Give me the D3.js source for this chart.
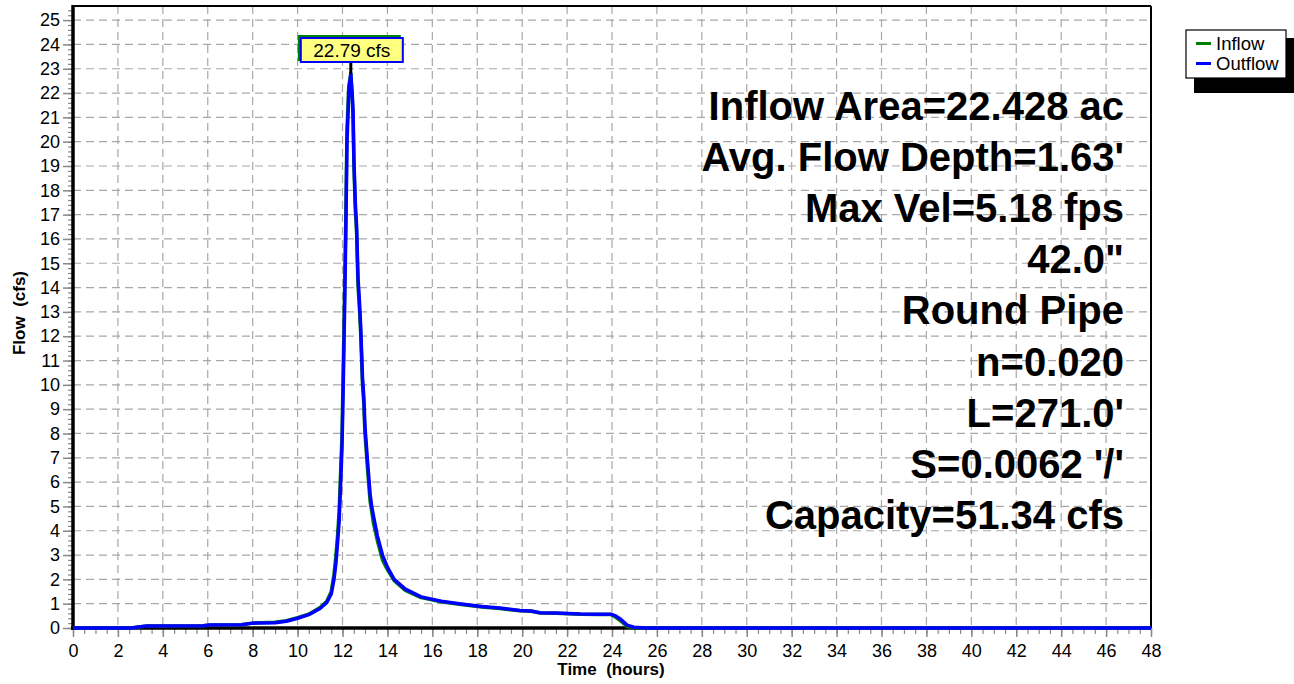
<!DOCTYPE html>
<html><head><meta charset="utf-8">
<script src="https://cdn.jsdelivr.net/npm/d3@7"></script>
<style>body{margin:0;background:#fff}svg{display:block}svg text{font-family:"Liberation Sans",Arial,sans-serif}</style>
</head><body>
<svg id="c" width="1294" height="684"></svg>
<script>
const times = [0,2.6,3.0,3.3,5.8,6.1,7.5,8.0,9.0,9.5,10.0,10.5,11.0,11.3,11.5,11.62,11.7,11.78,11.85,11.92,11.98,12.04,12.1,12.15,12.2,12.28,12.37,12.43,12.47,12.51,12.57,12.63,12.69,12.75,12.81,12.89,12.95,13.0,13.11,13.23,13.3,13.38,13.55,13.78,14.0,14.3,14.8,15.5,16.4,17.2,18.2,19.0,19.9,20.4,20.8,21.5,22.6,23.5,23.95,24.15,24.4,24.67,24.97,25.5,48];
const outflow = [0,0,0.05,0.08,0.09,0.12,0.13,0.2,0.22,0.28,0.4,0.55,0.8,1.05,1.4,2.0,2.6,3.5,4.4,6.0,7.5,10.3,13.5,16.5,20.0,22.0,22.79,22.0,21.3,19.2,17.5,16.5,14.4,13.5,12.4,10.3,9.5,8.3,6.9,5.5,5.0,4.6,3.8,3.0,2.5,2.0,1.6,1.28,1.1,1.0,0.88,0.82,0.72,0.7,0.63,0.62,0.58,0.57,0.57,0.5,0.35,0.12,0.03,0,0];
const inflow = [0,0,0.05,0.08,0.09,0.12,0.13,0.2,0.24,0.3,0.42,0.57,0.84,1.1,1.5,2.2,2.9,3.8,4.8,6.5,8.0,11.0,14.2,17.0,20.5,22.3,22.79,21.8,21.0,19.0,17.2,16.2,14.1,13.2,12.1,10.0,9.2,8.0,6.6,5.2,4.8,4.3,3.6,2.8,2.4,1.95,1.55,1.25,1.08,0.98,0.86,0.8,0.71,0.69,0.62,0.61,0.57,0.56,0.56,0.45,0.28,0.06,0.01,0,0];
const yTicks = d3.range(0,26,1);
const xTicks = d3.range(0,49,2);
const peakLabel = "22.79 cfs";
const seriesNames = ["Inflow","Outflow"];
const seriesColors = ["#008000","#0000ff"];
const notes = ["Inflow Area=22.428 ac","Avg. Flow Depth=1.63'","Max Vel=5.18 fps","42.0\"","Round Pipe","n=0.020","L=271.0'","S=0.0062 '/'","Capacity=51.34 cfs"];

const svg = d3.select("#c");
const L=73, R=1151, T=6, B=628;
const x = d3.scaleLinear().domain([0,48]).range([L,R]);
const y = d3.scaleLinear().domain([0,25.58]).range([B,T]);

// grid
const grid = svg.append("g").attr("stroke","#a8a8a8").attr("stroke-width",1.2).attr("stroke-dasharray","8,5");
yTicks.filter(d=>d>0).forEach(d=>grid.append("line").attr("x1",L).attr("x2",R).attr("y1",y(d)).attr("y2",y(d)));
xTicks.filter(d=>d>0&&d<48).forEach(d=>grid.append("line").attr("y1",T).attr("y2",B).attr("x1",x(d)).attr("x2",x(d)));

// frame
svg.append("line").attr("x1",L).attr("x2",R).attr("y1",T).attr("y2",T).attr("stroke","#000").attr("stroke-width",2);
svg.append("line").attr("x1",R).attr("x2",R).attr("y1",T).attr("y2",B).attr("stroke","#000").attr("stroke-width",2);

// y axis
const yMinor = d3.range(0,25.6,0.2);
const yAx = svg.append("g").attr("transform",`translate(${L},0)`)
  .call(d3.axisLeft(y).tickValues(yMinor).tickSize(5).tickFormat(""));
yAx.select(".domain").remove(); yAx.selectAll("line").attr("stroke","#888").attr("stroke-width",1.2);
const yAx2 = svg.append("g").attr("transform",`translate(${L},0)`)
  .call(d3.axisLeft(y).tickValues(yTicks).tickSize(10).tickPadding(3).tickFormat(d3.format("d")));
yAx2.select(".domain").remove(); yAx2.selectAll("line").attr("stroke","#888").attr("stroke-width",1.5);
yAx2.selectAll("text").attr("font-size",18).attr("fill","#000").attr("font-family",null);

// x axis
const xMinor = d3.range(0,48.1,0.5);
const xAx = svg.append("g").attr("transform",`translate(0,${B})`)
  .call(d3.axisBottom(x).tickValues(xMinor).tickSize(6).tickFormat(""));
xAx.select(".domain").remove(); xAx.selectAll("line").attr("stroke","#888").attr("stroke-width",1.2);
const xAx2 = svg.append("g").attr("transform",`translate(0,${B})`)
  .call(d3.axisBottom(x).tickValues(xTicks).tickSize(9).tickPadding(7).tickFormat(d3.format("d")));
xAx2.select(".domain").remove(); xAx2.selectAll("line").attr("stroke","#888").attr("stroke-width",1.5);
xAx2.selectAll("text").attr("font-size",18).attr("fill","#000").attr("font-family",null);
svg.selectAll("g").attr("font-family",null);

svg.append("line").attr("x1",L).attr("x2",L).attr("y1",T-1).attr("y2",B+2).attr("stroke","#000").attr("stroke-width",3.5);
svg.append("line").attr("x1",L-2).attr("x2",R).attr("y1",B).attr("y2",B).attr("stroke","#000").attr("stroke-width",3.5);

// curves
const line = d3.line().x((d,i)=>x(times[i])).y(d=>y(d));
svg.append("path").attr("d",line(inflow)).attr("fill","none").attr("stroke",seriesColors[0]).attr("stroke-width",3.5).attr("stroke-linejoin","round");
svg.append("path").attr("d",line(outflow)).attr("fill","none").attr("stroke",seriesColors[1]).attr("stroke-width",3.5).attr("stroke-linejoin","round");

// peak label
const pi = outflow.indexOf(d3.max(outflow));
const px = x(times[pi]), py = y(outflow[pi]);
svg.append("line").attr("x1",px).attr("x2",px).attr("y1",62).attr("y2",py).attr("stroke","#000").attr("stroke-width",3);
svg.append("rect").attr("x",px-53).attr("y",35).attr("width",103).attr("height",26).attr("fill","#008000");
svg.append("rect").attr("x",px-50).attr("y",38).attr("width",102).attr("height",24).attr("fill","#ffff80").attr("stroke","#0000ff").attr("stroke-width",2);
svg.append("text").attr("x",px+1).attr("y",57).attr("text-anchor","middle").attr("font-size",19).text(peakLabel);

// notes
svg.append("g").selectAll("text").data(notes).join("text")
  .attr("x",1124).attr("y",(d,i)=>120+i*51.1).attr("text-anchor","end")
  .attr("font-size",40).attr("font-weight","bold").text(d=>d);

// legend
const lg = svg.append("g");
lg.append("rect").attr("x",1194).attr("y",38).attr("width",100).attr("height",55).attr("fill","#000");
lg.append("rect").attr("x",1186).attr("y",30).attr("width",100).attr("height",48).attr("fill","#fff").attr("stroke","#000").attr("stroke-width",1.2);
seriesNames.forEach((n,i)=>{
  lg.append("line").attr("x1",1196).attr("x2",1211).attr("y1",43.5+i*20).attr("y2",43.5+i*20).attr("stroke",seriesColors[i]).attr("stroke-width",3);
  lg.append("text").attr("x",1216).attr("y",50+i*20).attr("font-size",18.5).text(n);
});

// axis titles
svg.append("text").attr("transform","translate(25,313) rotate(-90)").attr("text-anchor","middle").attr("font-size",17).attr("font-weight","bold").attr("xml:space","preserve").text("Flow  (cfs)");
svg.append("text").attr("x",611).attr("y",675).attr("text-anchor","middle").attr("font-size",17).attr("font-weight","bold").attr("xml:space","preserve").text("Time  (hours)");
</script>
</body></html>
